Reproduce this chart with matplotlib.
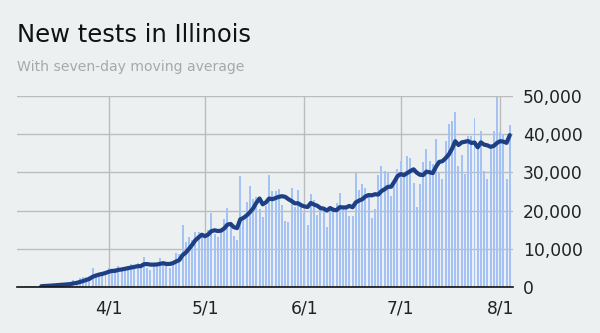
import numpy as np
import pandas as pd
import matplotlib
matplotlib.use("Agg")
import matplotlib.pyplot as plt

# daily new tests (Mar 5 - Aug 4, 2020)
march = [100, 150, 150, 200, 250, 300, 350, 400, 500, 550, 600, 700, 800, 800,
         900, 1000, 1800, 1500, 2300, 2600, 2700, 3000, 4900, 3700, 3600, 3500, 4300]
april = [4900, 4600, 5000, 5500, 4300, 4700, 5500, 6000, 5700, 6400, 5700, 7800,
         4900, 4500, 6000, 6000, 7500, 6900, 6400, 4900, 6000, 9000, 8700, 16300,
         11700, 13200, 12400, 14300, 14300, 13600]
may = [13600, 14800, 19300, 14000, 13000, 14900, 17700, 20600, 16000, 13400,
       12300, 29100, 17500, 22300, 26400, 23000, 23600, 20300, 18400, 21100,
       29300, 25200, 25200, 25700, 21500, 17200, 16900, 25800, 21000, 25400, 22000]
june = [19300, 16200, 24300, 22800, 18900, 21100, 21000, 15800, 20800, 21000,
        22100, 24500, 20600, 21000, 18500, 18500, 29800, 25400, 26900, 25800,
        23600, 18000, 20500, 29200, 31700, 30400, 30100, 23800, 27100, 30800]
july = [33000, 29800, 34200, 33700, 27100, 20900, 26900, 32600, 36000, 33000,
        32200, 38700, 29800, 28200, 38200, 42800, 43500, 45900, 31800, 34500,
        29500, 39400, 39400, 44200, 37200, 40800, 30400, 28200, 36700, 40900, 49700]
august = [40500, 40000, 28200, 42300]

tick_dates = ["2020-04-01", "2020-05-01", "2020-06-01", "2020-07-01", "2020-08-01"]
tick_labels = ["4/1", "5/1", "6/1", "7/1", "8/1"]
y_ticks = [0, 10000, 20000, 30000, 40000, 50000]

values = march + april + may + june + july + august
dates = pd.date_range("2020-03-05", periods=len(values), freq="D")
tests = pd.Series(values, index=dates)
avg = tests.rolling(7).mean()

bg = "#edf0f1"
fig = plt.figure(figsize=(6, 3.33), dpi=100, facecolor=bg)
ax = fig.add_axes([17 / 600, 46 / 333, 496 / 600, 191 / 333], facecolor=bg)

ax.bar(tests.index, tests.values, width=0.62, color="#a4c2f4", zorder=2)
ax.plot(avg.index, avg.values, color="#1d3f84", lw=3, solid_capstyle="round", zorder=3)

ax.set_ylim(0, 50000)
ax.set_xlim(pd.Timestamp("2020-03-03 10:00"), pd.Timestamp("2020-08-05"))

ax.set_yticks(y_ticks)
ax.set_yticklabels([f"{v:,}" for v in y_ticks])
ax.set_xticks(pd.to_datetime(tick_dates))
ax.set_xticklabels(tick_labels)
ax.yaxis.tick_right()
ax.tick_params(axis="both", length=0, labelsize=12.3, colors="#222222")
ax.tick_params(axis="y", pad=7)
ax.tick_params(axis="x", pad=9)

ax.grid(True, color="#bcbcbc", lw=1, zorder=0)
for s in ["top", "left", "right"]:
    ax.spines[s].set_visible(False)
ax.spines["bottom"].set_color("#111111")
ax.spines["bottom"].set_linewidth(1.2)
ax.spines["bottom"].set_zorder(4)

fig.text(17 / 600, 1 - 42 / 333, "New tests in Illinois", fontsize=17.5,
         color="#111111", va="baseline", ha="left")
fig.text(17 / 600, 1 - 71 / 333, "With seven-day moving average", fontsize=10.1,
         color="#a8a8a8", va="baseline", ha="left")

fig.savefig("out.png", dpi=100, facecolor=bg)
